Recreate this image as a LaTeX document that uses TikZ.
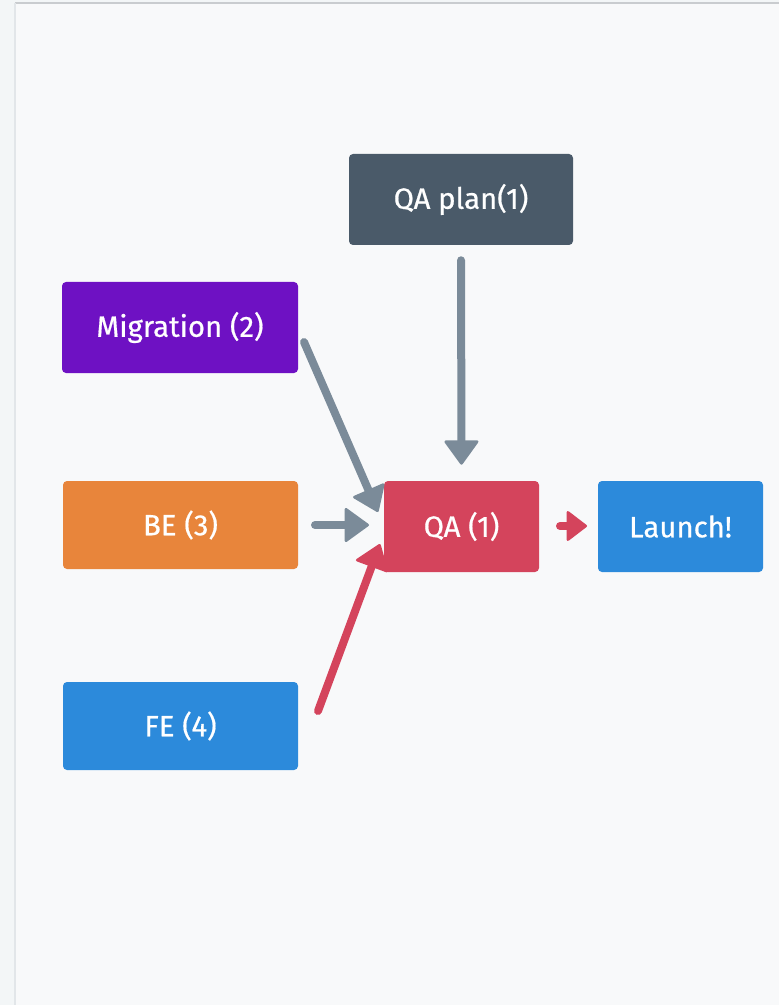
\documentclass[tikz,border=0pt]{standalone}
\usepackage{fontspec}
\setmainfont{Fira Sans}[FakeBold=0.6]
\usetikzlibrary{arrows.meta}
\definecolor{bgout}{HTML}{F3F6F7}
\definecolor{bgin}{HTML}{F8F9FA}
\definecolor{topline}{HTML}{C9CCCF}
\definecolor{leftline}{HTML}{E2E6E9}
\definecolor{cdark}{HTML}{4A5A69}
\definecolor{cpurple}{HTML}{6E11C3}
\definecolor{corange}{HTML}{E8853B}
\definecolor{cblue}{HTML}{2C8ADB}
\definecolor{cred}{HTML}{D4445C}
\definecolor{cgray}{HTML}{7B8B99}
\tikzset{
  box/.style={rectangle, rounded corners=3pt, text=white, inner sep=0pt,
    font=\fontsize{22}{26}\selectfont, minimum height=68.25pt},
  arr/.style={line width=6pt, line cap=round, line join=round,
    -{Triangle[width=27pt,length=19pt,line width=2pt,round]}},
}
\begin{document}
\begin{tikzpicture}[x=0.75pt,y=-0.75pt]
\useasboundingbox (0,0) rectangle (779,1005);
\fill[bgout] (0,0) rectangle (779,1005);
\fill[bgin] (15,3) rectangle (779,1005);
\draw[topline, line width=1pt] (15,3) -- (779,3);
\draw[leftline, line width=1pt] (15,3) -- (15,1005);

\node[box, fill=cdark, minimum width=168pt] (qaplan) at (461,199.5) {QA plan(1)};
\node[box, fill=cpurple, minimum width=177pt] (mig) at (180,327.5) {Migration (2)};
\node[box, fill=corange, minimum width=176.25pt, minimum height=66pt] (be) at (180.5,525) {BE (3)};
\node[box, fill=cblue, minimum width=176.25pt, minimum height=66pt] (fe) at (180.5,726) {FE (4)};
\node[box, fill=cred, minimum width=116.25pt] (qa) at (461.5,526.5) {QA (1)};
\node[box, fill=cblue, minimum width=123.75pt] (launch) at (680.5,526.5) {Launch!};

\coordinate (m1) at (304,342);
\coordinate (m2) at (378,512);
\coordinate (b1) at (315,525);
\coordinate (b2) at (369,525);
\coordinate (f1) at (318,711);
\coordinate (f2) at (380,544);
\coordinate (l1) at (560,526);
\coordinate (l2) at (587,526);

\draw[arr, cgray, shorten <=11.25pt, shorten >=12pt] (qaplan.south) -- (qa.north);
\draw[arr, cgray] (m1) -- (m2);
\draw[arr, cgray] (b1) -- (b2);
\draw[arr, cred] (f1) -- (f2);
\draw[arr, cred, -{Triangle[width=24pt,length=16pt,line width=2pt,round]}] (l1) -- (l2);
\end{tikzpicture}
\end{document}
